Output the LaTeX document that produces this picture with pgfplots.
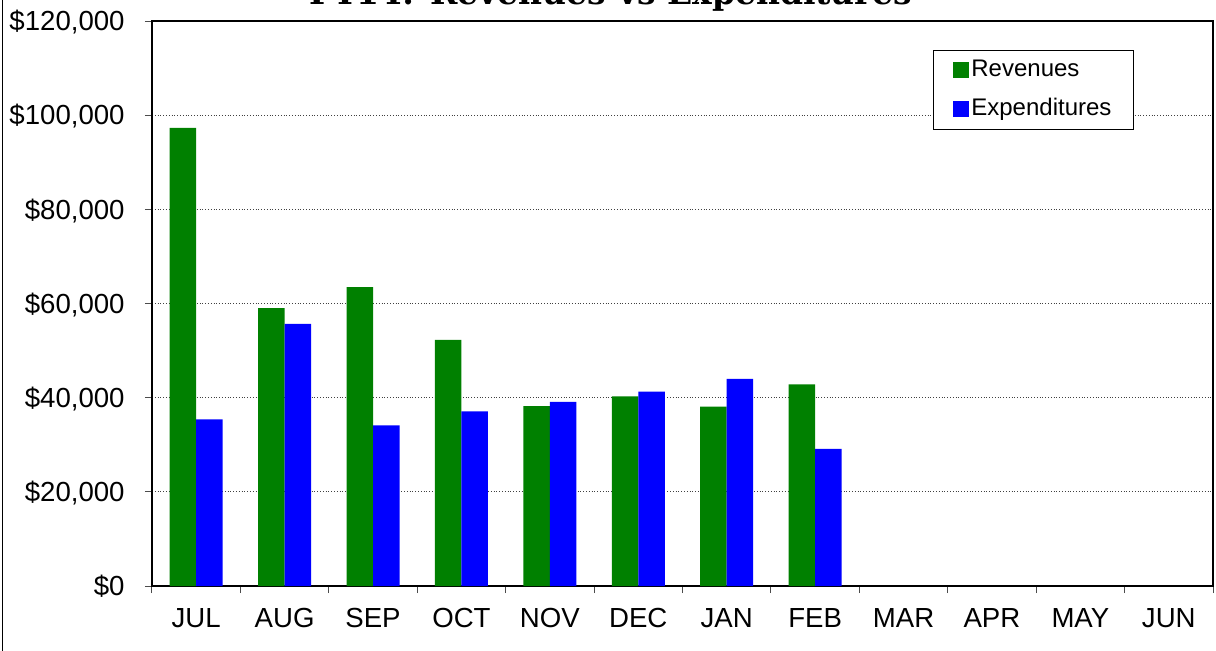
\documentclass[border=0pt]{standalone}
\usepackage{graphicx}
\usepackage{pgfplots}
\pgfplotsset{compat=1.18}
\usepackage{fontspec}
\setmainfont{Liberation Sans}
\newfontfamily\titlefont{DejaVu Serif}
\definecolor{revgreen}{RGB}{0,128,0}
\definecolor{expblue}{RGB}{0,0,255}
\begin{document}
\begin{tikzpicture}[x=1pt,y=1pt]
\begin{axis}[
  at={(76pt,32pt)}, anchor=south west,
  scale only axis, width=530.5pt, height=282.5pt,
  xmin=0.5, xmax=12.5, ymin=0, ymax=120000,
  ybar=0pt, bar width=0.3,
  xtick={0.5,1.5,2.5,3.5,4.5,5.5,6.5,7.5,8.5,9.5,10.5,11.5,12.5},
  x tick label as interval,
  xticklabels={JUL,AUG,SEP,OCT,NOV,DEC,JAN,FEB,MAR,APR,MAY,JUN},
  ytick={0,20000,40000,60000,80000,100000,120000},
  yticklabels={\$0,{\$20,000},{\$40,000},{\$60,000},{\$80,000},{\$100,000},{\$120,000}},
  scaled y ticks=false,
  tick pos=left, tick align=outside, major tick length=3.5pt,
  tick style={black!70, line width=0.5pt},
  axis line style={black, line width=1pt},
  ymajorgrids, grid style={densely dotted, black!75, line width=0.4pt},
  xticklabel style={font=\fontsize{13.8}{16}\selectfont, inner sep=0pt, anchor=north, yshift=-7.5pt},
  yticklabel style={font=\fontsize{13.8}{16}\selectfont, inner sep=0pt, anchor=base east, xshift=-10pt, yshift=-4.9pt},
  legend style={at={(0.736,0.9487)}, anchor=north west, draw=black, line width=0.5pt,
    font=\fontsize{12}{14}\selectfont, inner xsep=10pt, inner ysep=3pt,
    nodes={inner sep=1pt, text height=9pt, text depth=3pt}, row sep=5.5pt,
    /tikz/every even column/.append style={column sep=0pt}},
  legend cell align=left,
  legend image code/.code={\fill[#1, draw=none] (0pt,-4pt) rectangle (8pt,4pt);},
]
\addplot[fill=revgreen, draw=none] coordinates {(1,97300) (2,59000) (3,63500) (4,52300) (5,38200) (6,40300) (7,38100) (8,42800)};
\addplot[fill=expblue, draw=none] coordinates {(1,35400) (2,55700) (3,34100) (4,37100) (5,39100) (6,41300) (7,44000) (8,29100)};
\legend{Revenues,Expenditures}
\end{axis}
\node[anchor=base, inner sep=0pt] at (305.5pt,322.75pt) {\resizebox{301pt}{!}{\titlefont\bfseries FY14: Revenues vs Expenditures}};
\draw[line width=0.5pt] (1pt,-5pt) -- (1pt,330pt);
\pgfresetboundingbox
\useasboundingbox (0,0) rectangle (608pt,325pt);
\end{tikzpicture}
\end{document}
